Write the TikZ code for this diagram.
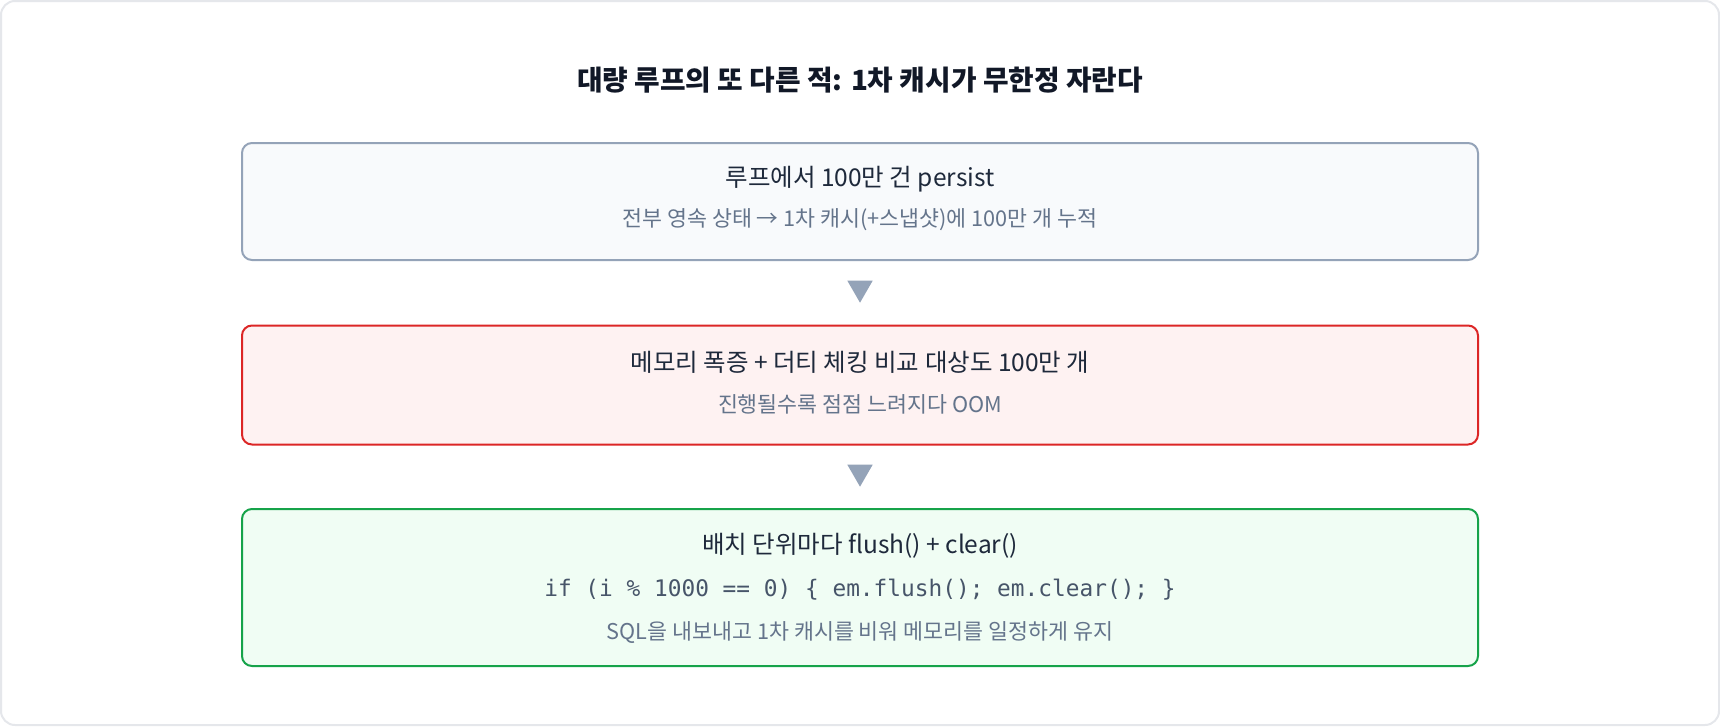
\documentclass[tikz,border=0pt]{standalone}
\usepackage{fontspec}
\setmainfont{Noto Sans CJK KR}
\setmonofont{DejaVu Sans Mono}
\usepackage{tikz}
\usetikzlibrary{positioning, shapes.geometric}

\definecolor{slateline}{HTML}{94A3B8}
\definecolor{slatefill}{HTML}{F8FAFC}
\definecolor{redline}{HTML}{DC2626}
\definecolor{redfill}{HTML}{FEF2F2}
\definecolor{greenline}{HTML}{16A34A}
\definecolor{greenfill}{HTML}{F0FDF4}
\definecolor{frameline}{HTML}{E5E7EB}
\definecolor{headtext}{HTML}{111827}
\definecolor{maintext}{HTML}{1E293B}
\definecolor{subtext}{HTML}{64748B}
\definecolor{codetext}{HTML}{475569}

\begin{document}
\begin{tikzpicture}[x=1pt,y=-1pt,
        stage/.style={rectangle,rounded corners=10pt,line width=2pt,minimum width=1236pt,inner sep=0pt},
        normal/.style={stage,draw=slateline,fill=slatefill},
        danger/.style={stage,draw=redline,fill=redfill},
        remedy/.style={stage,draw=greenline,fill=greenfill},
        headline/.style={text=maintext,font=\fontsize{24.5}{28}\selectfont,inner sep=0pt},
        subline/.style={text=subtext,font=\fontsize{21.7}{25}\selectfont,inner sep=0pt},
        codeline/.style={text=codetext,font=\ttfamily\fontsize{22.8}{26}\selectfont,inner sep=0pt},
        pointer/.style={isosceles triangle,isosceles triangle apex angle=60,shape border rotate=-90,
                        fill=slateline,draw=none,minimum size=22pt,inner sep=0pt}]
        % outer frame
        \draw[frameline,line width=2pt,fill=white,rounded corners=14pt] (1,1) rectangle (1719,725);
        \node[text=headtext,font=\bfseries\fontsize{27.8}{32}\selectfont] (title) at (860,80)
            {대량 루프의 또 다른 적: 1차 캐시가 무한정 자란다};

        % stages
        \node[normal,minimum height=117pt] (loop)  at (860,201.5) {};
        \node[danger,minimum height=119pt] (blow)  at (860,385) {};
        \node[remedy,minimum height=157pt] (batch) at (860,587.5) {};

        \node[headline] (loopT) at (860,179) {루프에서 100만 건 persist};
        \node[subline]  (loopS) at (860,220) {전부 영속 상태 → 1차 캐시(+스냅샷)에 100만 개 누적};
        \node[headline] (blowT) at (860,362) {메모리 폭증 + 더티 체킹 비교 대상도 100만 개};
        \node[subline]  (blowS) at (860,404) {진행될수록 점점 느려지다 OOM};
        \node[headline] (batchT) at (860,546) {배치 단위마다 flush() + clear()};
        \node[codeline] (batchC) at (860,590) {if (i \% 1000 == 0) \{ em.flush(); em.clear(); \}};
        \node[subline]  (batchS) at (860,633) {SQL을 내보내고 1차 캐시를 비워 메모리를 일정하게 유지};

        % pointers
        \node[pointer] (p1) at (860,288) {};
        \node[pointer] (p2) at (860,472) {};
\end{tikzpicture}
\end{document}
